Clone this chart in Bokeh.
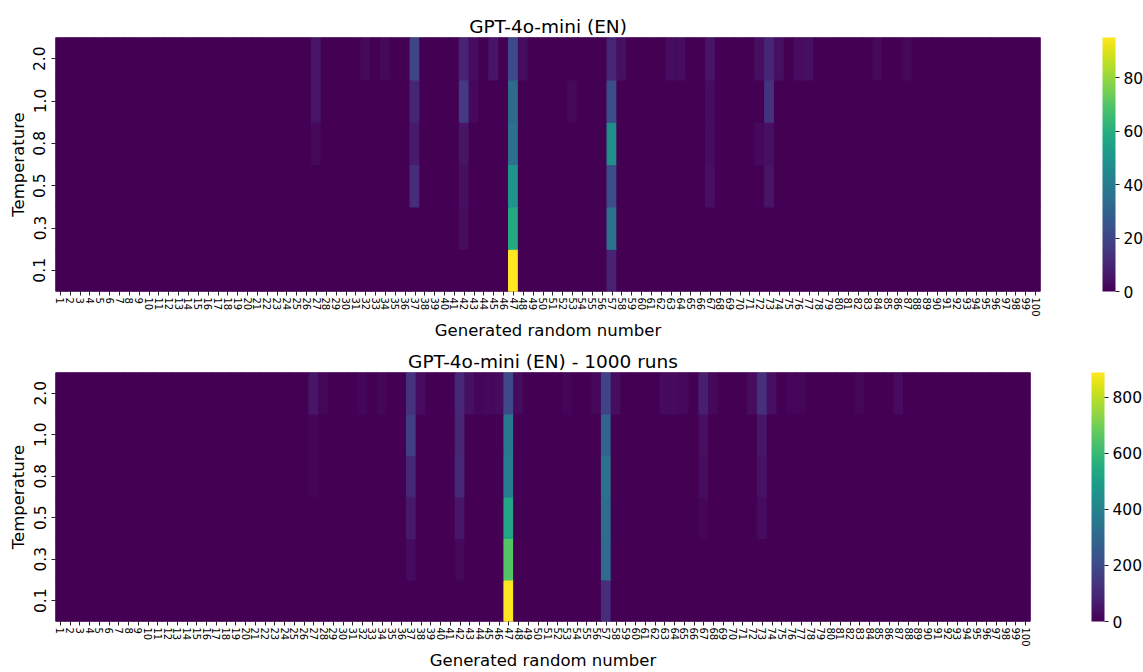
from bokeh.plotting import figure
from bokeh.models import (FactorRange, LinearColorMapper, ColorBar, FixedTicker,
                          ColumnDataSource)
from bokeh.transform import transform
from bokeh.palettes import Viridis256
from bokeh.layouts import column
from bokeh.embed import file_html
from bokeh.resources import INLINE

# ---------------- data ----------------
numbers = [str(n) for n in range(1, 101)]          # x categories 1..100
temperatures = ["0.1", "0.3", "0.5", "0.8", "1.0", "2.0"]  # bottom -> top

# GPT-4o-mini (EN), 100 runs per temperature: {generated number: count}
en100_t01 = {47: 95, 57: 9}
en100_t03 = {42: 3, 47: 58, 57: 36}
en100_t05 = {37: 12, 42: 4, 47: 49, 57: 23, 67: 4, 73: 5}
en100_t08 = {27: 2, 37: 7, 42: 5, 47: 35, 57: 47, 67: 3, 72: 2, 73: 4}
en100_t10 = {27: 5, 37: 10, 42: 16, 43: 2, 47: 33, 53: 2, 57: 23, 67: 3, 73: 14}
en100_t20 = {27: 5, 32: 2, 34: 2, 37: 20, 42: 9, 43: 3, 45: 5, 47: 21, 48: 3,
             57: 10, 58: 4, 63: 3, 64: 3, 67: 5, 72: 4, 73: 10, 74: 4,
             76: 3, 77: 4, 84: 2, 87: 2}

# GPT-4o-mini (EN) - 1000 runs per temperature
en1000_t01 = {47: 888, 57: 112}
en1000_t03 = {37: 25, 42: 20, 47: 650, 57: 310}
en1000_t05 = {37: 60, 42: 55, 47: 525, 57: 320, 67: 15, 73: 25}
en1000_t08 = {27: 15, 37: 100, 42: 100, 47: 375, 57: 335, 67: 30, 73: 45}
en1000_t10 = {27: 15, 37: 165, 42: 95, 47: 360, 57: 290, 67: 35, 73: 55}
en1000_t20 = {27: 55, 28: 15, 32: 15, 34: 15, 37: 125, 38: 25, 42: 100, 43: 35,
              44: 15, 45: 20, 46: 25, 47: 196, 48: 25, 53: 15, 56: 20, 57: 180,
              58: 30, 63: 25, 64: 25, 65: 20, 67: 75, 68: 20, 72: 30, 73: 120,
              74: 35, 76: 15, 77: 15, 83: 15, 87: 25}

rows_100 = [en100_t01, en100_t03, en100_t05, en100_t08, en100_t10, en100_t20]
rows_1000 = [en1000_t01, en1000_t03, en1000_t05, en1000_t08, en1000_t10, en1000_t20]

cb_ticks_100 = [0, 20, 40, 60, 80]
cb_ticks_1000 = [0, 200, 400, 600, 800]

FONT = "DejaVu Sans"


def heatmap(title, rows, ticks, frame_w, frame_h, left, right, top, bottom, cb_x):
    xs, ys, vs = [], [], []
    for temp, row in zip(temperatures, rows):
        for n in numbers:
            xs.append(n)
            ys.append(temp)
            vs.append(row.get(int(n), 0))
    src = ColumnDataSource(dict(x=xs, y=ys, v=vs))
    mapper = LinearColorMapper(palette=Viridis256, low=0, high=max(vs))

    p = figure(x_range=FactorRange(*numbers), y_range=FactorRange(*temperatures),
               frame_width=frame_w, frame_height=frame_h,
               min_border_left=left, min_border_right=right,
               min_border_top=top, min_border_bottom=bottom,
               output_backend="svg", toolbar_location=None, title=title)
    p.background_fill_color = Viridis256[0]
    p.rect(x="x", y="y", width=1, height=1, source=src,
           fill_color=transform("v", mapper), line_color=transform("v", mapper),
           line_width=1.2)

    p.title.align = "center"
    p.title.text_font = FONT
    p.title.text_font_style = "normal"
    p.title.text_font_size = "18.5px"
    p.title.text_color = "#000000"
    p.title.standoff = 2

    p.outline_line_color = None
    p.grid.grid_line_color = None
    p.axis.axis_line_color = None
    p.axis.major_tick_line_color = "#222222"
    p.axis.major_tick_out = 4
    p.axis.major_tick_in = 0
    p.axis.minor_tick_line_color = None
    p.axis.major_label_text_font = FONT
    p.axis.major_label_text_color = "#000000"
    p.axis.axis_label_text_font = FONT
    p.axis.axis_label_text_font_style = "normal"
    p.axis.axis_label_text_font_size = "16.5px"
    p.axis.axis_label_text_color = "#000000"

    p.xaxis.axis_label = "Generated random number"
    p.xaxis.major_label_orientation = "vertical"
    p.xaxis.major_label_text_font_size = "10px"
    p.xaxis.major_label_standoff = 2
    p.xaxis.axis_label_standoff = 1

    p.yaxis.axis_label = "Temperature"
    p.yaxis.major_label_orientation = "vertical"
    p.yaxis.major_label_text_font_size = "15.5px"
    p.yaxis.major_label_standoff = 6
    p.yaxis.axis_label_standoff = 3

    cb = ColorBar(color_mapper=mapper, ticker=FixedTicker(ticks=ticks),
                  width=13, height=frame_h, location=(cb_x, 0),
                  margin=0, padding=0, label_standoff=4,
                  major_tick_in=0, major_tick_out=4,
                  major_tick_line_color="#222222", minor_tick_line_color=None,
                  bar_line_color=None, border_line_color=None,
                  background_fill_alpha=0,
                  major_label_text_font=FONT, major_label_text_font_size="15.5px",
                  major_label_text_color="#000000")
    p.add_layout(cb, "center")
    return p


p1 = heatmap("GPT-4o-mini (EN)", rows_100, cb_ticks_100,
             985, 254, 54, 104, 37, 49, 1047)
p2 = heatmap("GPT-4o-mini (EN) - 1000 runs", rows_1000, cb_ticks_1000,
             975, 249, 55, 113, 30, 46, 1036)

layout = column(p1, p2, spacing=0)
open("out.html", "w").write(file_html(layout, INLINE))
